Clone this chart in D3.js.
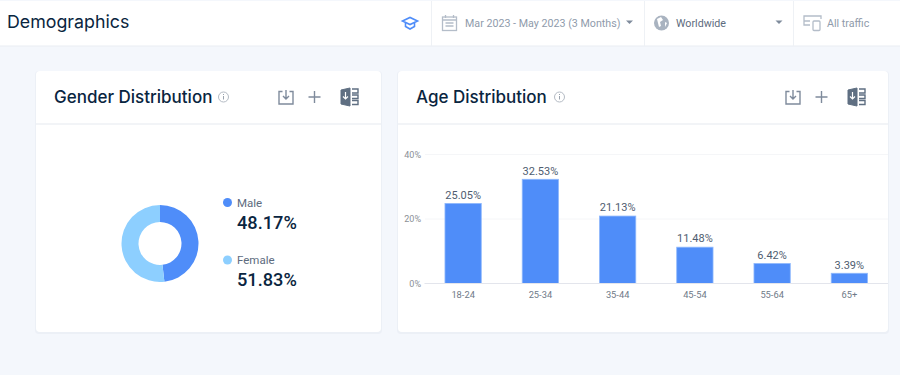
<!DOCTYPE html>
<html lang="en">
<head>
<meta charset="utf-8">
<script src="https://cdn.jsdelivr.net/npm/d3@7/dist/d3.min.js"></script>
<title>Demographics</title>
<style>
html, body { margin: 0; padding: 0; background: #f4f7fc; overflow: hidden; }
svg { display: block; }
text { font-family: Roboto, sans-serif; }
.title { font-family: Inter, "Noto Sans", sans-serif; font-weight: 500; fill: #092540; }
.filter { font-size: 10.7px; fill: #8f9bab; }
.icon { fill: none; stroke: #7f8b9c; stroke-width: 1.4; }
</style>
</head>
<body>
<svg id="chart" width="900" height="375"></svg>

<script>
const genderNames = ["Male", "Female"];
const genderValues = [48.17, 51.83];
const genderColors = ["#4f8df9", "#8dcfff"];

const ageGroups = ["18-24", "25-34", "35-44", "45-54", "55-64", "65+"];
const ageValues = [25.05, 32.53, 21.13, 11.48, 6.42, 3.39];
const ageTicks = [0, 20, 40];

const svg = d3.select("#chart");

// top bar
svg.append("rect").attr("x", 0).attr("y", 1).attr("width", 900).attr("height", 45).attr("fill", "#fff");
svg.append("line").attr("x1", 0).attr("x2", 900).attr("y1", 46).attr("y2", 46).attr("stroke", "#e9edf2");
svg.append("text").attr("class", "title").attr("x", 7).attr("y", 28).style("font-size", "17.8px").style("font-weight", 400).text("Demographics");
[431.5, 644.5, 793.5].forEach(function(x){
  svg.append("line").attr("x1", x).attr("x2", x).attr("y1", 1).attr("y2", 46).attr("stroke", "#eef1f5");
});

// graduation cap
const cap = svg.append("g").attr("transform", "translate(410,23)").attr("fill", "none").attr("stroke", "#4f8df9").attr("stroke-width", 1.6);
cap.append("path").attr("d", "M-7.5,-2 L0,-5.5 L7.5,-2 L0,1.5 Z");
cap.append("path").attr("d", "M-4.5,0 V3.5 L0,6 L4.5,3.5 V0");

// calendar
const cal = svg.append("g").attr("transform", "translate(449.5,23)").attr("stroke", "#b4bdc9").attr("fill", "none").attr("stroke-width", 1.3);
cal.append("rect").attr("x", -7).attr("y", -6).attr("width", 14).attr("height", 13.5);
cal.append("path").attr("d", "M-7,-3 H7 M-4,-8 V-5 M4,-8 V-5 M-4,0 H4 M-4,3 H4");
svg.append("text").attr("class", "filter").attr("x", 465).attr("y", 26.5).text("Mar 2023 - May 2023 (3 Months)");
svg.append("path").attr("d", "M626,20.5 h7 l-3.5,3.5 z").attr("fill", "#7f8b9c");

// globe
svg.append("circle").attr("cx", 661.5).attr("cy", 23).attr("r", 7.5).attr("fill", "#a9b3c0");
svg.append("path").attr("d", "M657,19 l4,-2 l2,3 l-3,2 l1,4 l-2,1 z M665,22 l2,1 l-2,4 z").attr("fill", "#fff");
svg.append("text").attr("x", 676).attr("y", 26.5).style("font-size", "10.7px").attr("fill", "#5d6b7e").text("Worldwide");
svg.append("path").attr("d", "M775.5,20.5 h7 l-3.5,3.5 z").attr("fill", "#7f8b9c");

// devices
const dev = svg.append("g").attr("stroke", "#b4bdc9").attr("fill", "none").attr("stroke-width", 1.3);
dev.append("path").attr("d", "M810,25 H804 V16 H821 V19 M804,21 H810");
dev.append("rect").attr("x", 813).attr("y", 21).attr("width", 7).attr("height", 9.5).attr("rx", 1);
svg.append("text").attr("class", "filter").attr("x", 827).attr("y", 26.5).text("All traffic");

// cards
function card(x, width, title, titleWidth) {
  const g = svg.append("g");
  g.append("rect").attr("x", x - 1).attr("y", 71).attr("width", width + 2).attr("height", 263)
    .attr("rx", 4).attr("fill", "#e8edf4").attr("opacity", .7);
  g.append("rect").attr("x", x).attr("y", 71).attr("width", width).attr("height", 261)
    .attr("rx", 4).attr("fill", "#fff");
  g.append("rect").attr("x", x).attr("y", 123).attr("width", width).attr("height", 2).attr("fill", "#f2f4f7");
  g.append("text").attr("class", "title").attr("x", x + 18).attr("y", 102.5)
    .style("font-size", "17px").text(title);

  // info icon
  const ix = x + 18 + titleWidth + 12.5;
  g.append("circle").attr("cx", ix).attr("cy", 97).attr("r", 5).attr("fill", "none").attr("stroke", "#b4bbc4");
  g.append("path").attr("d", "M" + ix + ",96 v3.5 M" + ix + ",94 v1").attr("stroke", "#9aa3ae");

  // download, plus, excel
  const r = x + width;
  g.append("path").attr("class", "icon").attr("d",
    "M" + (r - 98.5) + ",91.5 h-3.5 v12.5 h14 v-12.5 h-3.5 M" + (r - 95) + ",90 v9 m-3,-3 l3,3 l3,-3");
  g.append("path").attr("class", "icon").attr("d",
    "M" + (r - 66.5) + ",91 v12 M" + (r - 72.5) + ",97 h12");
  g.append("path").attr("d",
    "M" + (r - 40) + ",90 l9,-2 v18 l-9,-2 z").attr("fill", "#5f6f82").attr("stroke", "#5f6f82");
  g.append("path").attr("d", "M" + (r - 35.5) + ",92 v7 m-2.5,-2.5 l2.5,2.5 l2.5,-2.5")
    .attr("fill", "none").attr("stroke", "#fff").attr("stroke-width", 1.2);
  g.append("path").attr("class", "icon").style("stroke", "#5f6f82").attr("d",
    "M" + (r - 29) + ",89 h6 v4 h-6 M" + (r - 29) + ",95 h6 v3.5 h-6 M" + (r - 29) + ",100.5 h6 v4 h-6");
}
card(36, 345, "Gender Distribution", 157);
card(398, 490, "Age Distribution", 131);

// donut, clockwise from 12 o'clock
const pie = d3.pie().sort(null)(genderValues);
const arc = d3.arc().innerRadius(21.5).outerRadius(38.5);
svg.append("g").attr("transform", "translate(160,243.5)")
  .selectAll("path").data(pie).enter().append("path")
  .attr("d", arc)
  .attr("fill", function(d, i){ return genderColors[i]; });

const legendY = d3.scalePoint().domain(genderNames).range([202, 259.5]);
const legend = svg.append("g").selectAll("g").data(genderNames).enter().append("g")
  .attr("transform", function(d){ return "translate(0," + legendY(d) + ")"; });
legend.append("circle").attr("cx", 227.5).attr("cy", 0.5).attr("r", 4.5)
  .attr("fill", function(d, i){ return genderColors[i]; });
legend.append("text").attr("x", 237).attr("y", 4.5).style("font-size", "11.5px").attr("fill", "#5d6b7e")
  .text(function(d){ return d; });
legend.append("text").attr("x", 237).attr("y", 26.5).style("font-size", "18.2px").style("font-weight", 500)
  .attr("fill", "#092540").text(function(d, i){ return genderValues[i].toFixed(2) + "%"; });

// age bars
const x = d3.scaleBand().domain(ageGroups).range([424.5, 888]).paddingInner(0.53).paddingOuter(0.265);
const y = d3.scaleLinear().domain([0, 40]).range([283.5, 154.5]);

const yAxis = d3.axisLeft(y).tickValues(ageTicks).tickSize(0).tickPadding(4)
  .tickFormat(function(d){ return d + "%"; });
const yG = svg.append("g").attr("transform", "translate(425,0)").call(yAxis);
yG.select(".domain").remove();
yG.selectAll("text").style("font-family", "Roboto, sans-serif").style("font-size", "9px").attr("fill", "#8b8f96");
svg.append("g").selectAll("line").data(ageTicks.filter(function(d){ return d > 0; })).enter().append("line")
  .attr("x1", 425).attr("x2", 888)
  .attr("y1", function(d){ return y(d); }).attr("y2", function(d){ return y(d); })
  .attr("stroke", "#f5f6f8");

svg.append("g").selectAll("rect").data(ageValues).enter().append("rect")
  .attr("x", function(d, i){ return x(ageGroups[i]); })
  .attr("width", x.bandwidth())
  .attr("y", function(d){ return y(d) + 0.7; })
  .attr("height", function(d){ return y(0) - y(d) - 0.7; })
  .attr("fill", "#4f8df9")
  .attr("stroke", "#8fb8fc")
  .attr("stroke-width", 0.8);

const xAxis = d3.axisBottom(x).tickSize(0).tickPadding(8);
const xG = svg.append("g").attr("transform", "translate(0,283.5)").call(xAxis);
xG.select(".domain").attr("stroke", "#e3e5ec").attr("d", "M424.5,0H888");
xG.selectAll("text").style("font-family", "Roboto, sans-serif").style("font-size", "9.3px").attr("fill", "#6f7a88");

svg.append("g").selectAll("text").data(ageValues).enter().append("text")
  .attr("x", function(d, i){ return x(ageGroups[i]) + x.bandwidth() / 2; })
  .attr("y", function(d){ return y(d) - 4; })
  .attr("text-anchor", "middle")
  .style("font-size", "11px")
  .attr("fill", "#4f5d70")
  .text(function(d){ return d.toFixed(2) + "%"; });
</script>
</body>
</html>
